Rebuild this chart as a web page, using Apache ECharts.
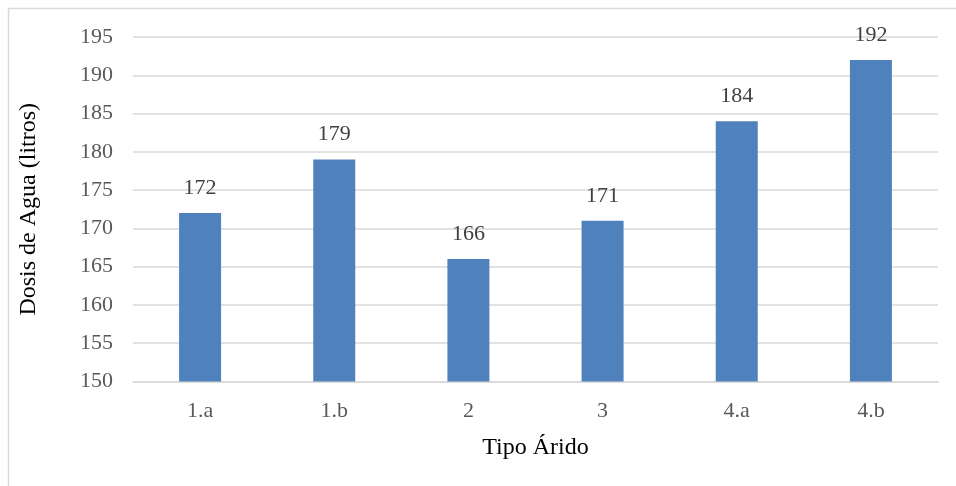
<!DOCTYPE html>
<html>
<head>
<meta charset="utf-8">
<style>
  html, body { margin: 0; padding: 0; background: #fff; }
  #chart { width: 956px; height: 486px; }
</style>
<script src="https://cdn.jsdelivr.net/npm/echarts@6/dist/echarts.min.js"></script>
</head>
<body>
<div id="chart"></div>
<script>
// Water dose per aggregate type
const categories = ['1.a', '1.b', '2', '3', '4.a', '4.b'];
const waterDose = [172, 179, 166, 171, 184, 192];
const yTicks = { min: 150, max: 195, interval: 5 };

const serif = '"Liberation Serif", "Times New Roman", serif';

const chart = echarts.init(document.getElementById('chart'), null, { renderer: 'canvas' });
chart.setOption({
  backgroundColor: '#ffffff',
  animation: false,
  textStyle: { fontFamily: serif },
  graphic: [{
    type: 'rect',
    shape: { x: 8.5, y: 8.5, width: 1000, height: 1000 },
    style: { fill: 'none', stroke: '#d9d9d9', lineWidth: 1.5 },
    silent: true
  }],
  grid: { left: 133, right: 18, top: 37, bottom: 104.5, containLabel: false },
  xAxis: {
    type: 'category',
    data: categories,
    name: 'Tipo Árido',
    nameLocation: 'middle',
    nameGap: 54,
    nameTextStyle: { fontFamily: serif, fontSize: 24, color: '#000000' },
    axisLine: { show: true, lineStyle: { color: '#d9d9d9', width: 1.5 } },
    axisTick: { show: false },
    axisLabel: { fontFamily: serif, fontSize: 22, color: '#595959', margin: 19 },
  },
  yAxis: {
    type: 'value',
    min: yTicks.min,
    max: yTicks.max,
    interval: yTicks.interval,
    name: 'Dosis de Agua (litros)',
    nameLocation: 'middle',
    nameGap: 92,
    nameTextStyle: { fontFamily: serif, fontSize: 24, color: '#000000' },
    axisLine: { show: false },
    axisTick: { show: false },
    axisLabel: { fontFamily: serif, fontSize: 22, color: '#595959', margin: 20 },
    splitLine: { lineStyle: { color: '#d9d9d9', width: 1.5 } }
  },
  series: [{
    type: 'bar',
    data: waterDose,
    barWidth: 42,
    itemStyle: { color: '#4f81bd' },
    label: {
      show: true,
      position: 'top',
      distance: 14,
      fontFamily: serif,
      fontSize: 22,
      color: '#404040'
    }
  }]
});
</script>
</body>
</html>
